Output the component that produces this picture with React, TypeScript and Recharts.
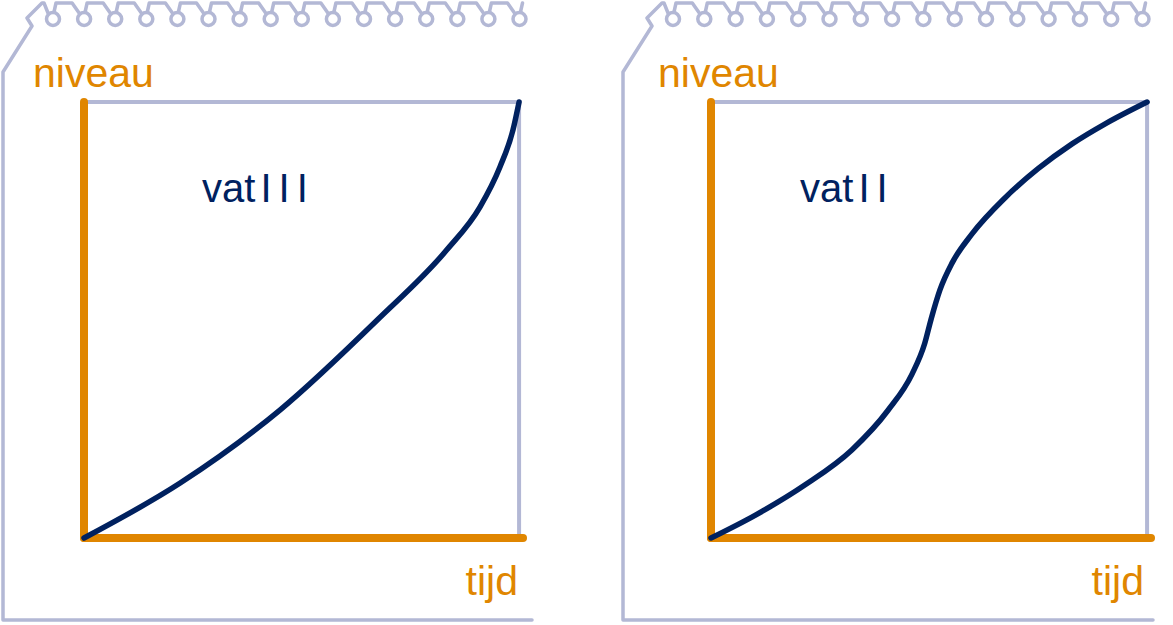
import React from 'react'
import { LineChart, Line, XAxis, YAxis, ReferenceLine, Customized } from 'recharts'

const ORANGE = '#e08600'
const NAVY = '#00215f'
const LAVENDER = '#b3b8d5'
const FONT = '"Liberation Sans", Arial, sans-serif'

// vat III: level rises ever faster
const tijdIII = [0, 0.221, 0.451, 0.674, 0.834, 0.91, 0.956, 0.986, 1]
const niveauIII = [0, 0.126, 0.294, 0.5, 0.661, 0.759, 0.851, 0.936, 1]

// vat II: slow, fast, slow again
const tijdII = [0, 0.101, 0.216, 0.323, 0.406, 0.461, 0.49, 0.505, 0.525, 0.553, 0.599, 0.674, 0.75, 0.828, 0.904, 1]
const niveauII = [0, 0.052, 0.122, 0.202, 0.293, 0.376, 0.446, 0.503, 0.569, 0.631, 0.698, 0.78, 0.847, 0.904, 0.95, 1]

const yLabel = 'niveau'
const xLabel = 'tijd'

// x axis runs a little past the frame
const X_MAX = 1.009

const toRows = (t: number[], v: number[]) => t.map((x, i) => ({ tijd: x, niveau: v[i] }))

interface PadProps {
  edge: number
  ring0: number
  step: number
  bottomEnd: number
  labelX: number
  tijdX: number
  titleX: number
  title: string
}

function Notepad({ edge, ring0, step, bottomEnd, labelX, tijdX, titleX, title }: PadProps) {
  const rings = Array.from({ length: 16 }, (_, k) => ring0 + k * step)
  let d = `M ${bottomEnd} 620 L ${edge} 620 L ${edge} 72 L ${edge + 29} 26 L ${edge + 24} 18 L ${edge + 39} 3 L ${edge + 41} 3 L ${rings[0] - 5} 13`
  rings.forEach((cx, k) => {
    d += ` M ${cx + 1} 12 L ${cx + 3} 3`
    if (k < rings.length - 1) d += ` L ${cx + step - 12} 3 L ${cx + step - 5} 13`
  })
  const [word, num] = title.split(' ')
  return (
    <g>
      <g fill="none" stroke={LAVENDER} strokeWidth={3.5} strokeLinejoin="round" strokeLinecap="round">
        <path d={d} />
        {rings.map((cx) => <circle key={cx} cx={cx} cy={19} r={6.5} />)}
      </g>
      <text x={labelX} y={87} fontSize={41} fill={ORANGE} fontFamily={FONT}>{yLabel}</text>
      <text x={tijdX} y={595} fontSize={41} fill={ORANGE} fontFamily={FONT} textAnchor="end">{xLabel}</text>
      <text x={titleX} y={202} fontSize={40} fill={NAVY} fontFamily={FONT} wordSpacing={-6}>
        {word + ' '}<tspan letterSpacing={7}>{num}</tspan>
      </text>
    </g>
  )
}

interface PanelProps {
  data: { tijd: number; niveau: number }[]
  width: number
  left: number
  right: number
  pad: PadProps
}

function Panel({ data, width, left, right, pad }: PanelProps) {
  return (
    <LineChart width={width} height={625} data={data} margin={{ top: 102, right, bottom: 87, left }}>
      <XAxis type="number" dataKey="tijd" domain={[0, X_MAX]} hide />
      <YAxis type="number" domain={[0, 1]} hide />
      <Customized component={<Notepad {...pad} />} />
      <ReferenceLine segment={[{ x: 0, y: 1 }, { x: 1, y: 1 }]} stroke={LAVENDER} strokeWidth={4} strokeLinecap="square" ifOverflow="visible" />
      <ReferenceLine segment={[{ x: 1, y: 1 }, { x: 1, y: 0 }]} stroke={LAVENDER} strokeWidth={4} strokeLinecap="square" ifOverflow="visible" />
      <ReferenceLine segment={[{ x: 0, y: 0 }, { x: X_MAX, y: 0 }]} stroke={ORANGE} strokeWidth={8} strokeLinecap="round" ifOverflow="visible" />
      <ReferenceLine segment={[{ x: 0, y: 0 }, { x: 0, y: 1 }]} stroke={ORANGE} strokeWidth={8} strokeLinecap="round" ifOverflow="visible" />
      <Line
        type="monotone"
        dataKey="niveau"
        stroke={NAVY}
        strokeWidth={5.5}
        strokeLinecap="round"
        dot={false}
        activeDot={false}
        isAnimationActive={false}
      />
    </LineChart>
  )
}

export default function App() {
  return (
    <div style={{ position: 'absolute', left: 0, top: 0, width: 1173, height: 625, background: '#fff', display: 'flex' }}>
      <Panel
        data={toRows(tijdIII, niveauIII)}
        width={586}
        left={84}
        right={63}
        pad={{ edge: 3, ring0: 53, step: 31.1, bottomEnd: 532, labelX: 33, tijdX: 518, titleX: 202, title: 'vat III' }}
      />
      <Panel
        data={toRows(tijdII, niveauII)}
        width={587}
        left={125}
        right={22}
        pad={{ edge: 37, ring0: 87, step: 31.3, bottomEnd: 567, labelX: 72, tijdX: 558, titleX: 214, title: 'vat II' }}
      />
    </div>
  )
}
